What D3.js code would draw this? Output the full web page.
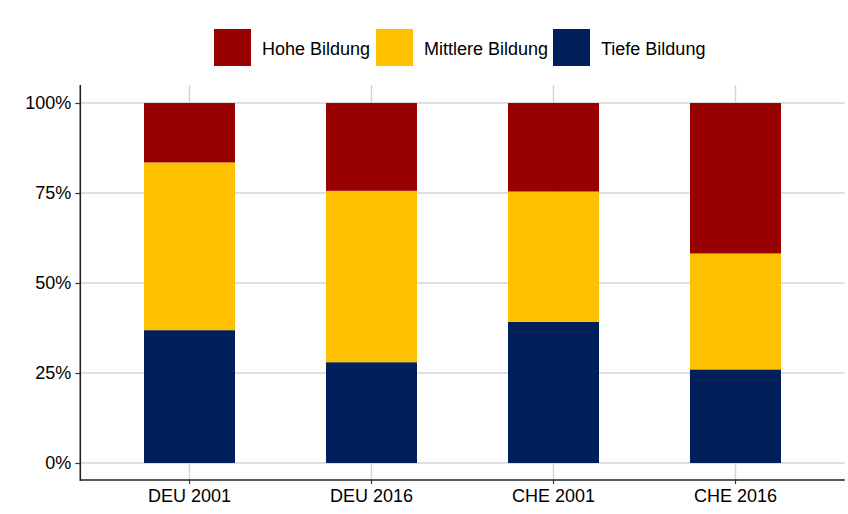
<!DOCTYPE html>
<html>
<head>
<meta charset="utf-8">
<script src="https://cdn.jsdelivr.net/npm/d3@7"></script>
<style>
  body { margin: 0; background: #fff; }
  text { font-family: "Liberation Sans", Arial, sans-serif; }
</style>
</head>
<body>
<svg id="chart" width="848" height="514"></svg>
<script>
const categories = ["DEU 2001", "DEU 2016", "CHE 2001", "CHE 2016"];
const seriesNames = ["Tiefe Bildung", "Mittlere Bildung", "Hohe Bildung"];
const tiefe = [0.369, 0.280, 0.392, 0.260];
const mittlere = [0.466, 0.476, 0.362, 0.322];
const hohe = [0.165, 0.244, 0.246, 0.418];
const yTicks = [0, 0.25, 0.5, 0.75, 1];
const yTickLabels = ["0%", "25%", "50%", "75%", "100%"];
const legendOrder = ["Hohe Bildung", "Mittlere Bildung", "Tiefe Bildung"];
const colors = {"Hohe Bildung": "#990000", "Mittlere Bildung": "#FFC000", "Tiefe Bildung": "#00205B"};

(function () {
const svg = d3.select("#chart");
const pLeft = 80.3, pRight = 844.7, pTop = 85, pBottom = 481;
const fs = 18;

const data = categories.map((c, i) => ({
  cat: c,
  "Tiefe Bildung": tiefe[i],
  "Mittlere Bildung": mittlere[i],
  "Hohe Bildung": hohe[i]
}));
const stack = d3.stack().keys(seriesNames)(data);

const x = d3.scaleBand().domain(categories).range([pLeft, pRight]).paddingInner(0.5).paddingOuter(0.35);
const y = d3.scaleLinear().domain([-0.05, 1.05]).range([pBottom, pTop]);

const grid = svg.append("g");
grid.selectAll("line.h").data(yTicks).join("line")
  .attr("x1", pLeft).attr("x2", pRight)
  .attr("y1", d => y(d)).attr("y2", d => y(d))
  .attr("stroke", "#d4d4d4").attr("stroke-width", 1.4);
grid.selectAll("line.v").data(categories).join("line")
  .attr("x1", d => x(d) + x.bandwidth() / 2).attr("x2", d => x(d) + x.bandwidth() / 2)
  .attr("y1", pTop).attr("y2", pBottom)
  .attr("stroke", "#d4d4d4").attr("stroke-width", 1.4);

svg.append("g").selectAll("g").data(stack).join("g")
  .attr("fill", d => colors[d.key])
  .selectAll("rect").data(d => d).join("rect")
  .attr("x", d => x(d.data.cat))
  .attr("width", x.bandwidth())
  .attr("y", d => y(d[1]))
  .attr("height", d => y(d[0]) - y(d[1]));

const yAxis = d3.axisLeft(y).tickValues(yTicks).tickFormat((d, i) => yTickLabels[i]).tickSize(5).tickPadding(4);
const gy = svg.append("g").attr("transform", `translate(${pLeft},0)`).call(yAxis);
gy.select(".domain").attr("d", `M0,${pTop}V${pBottom}`).attr("stroke", "#222").attr("stroke-width", 1.6);
gy.selectAll(".tick line").attr("stroke", "#333").attr("stroke-width", 1.2);
gy.selectAll(".tick text").attr("font-size", fs).attr("fill", "#000").attr("font-family", "Liberation Sans, Arial, sans-serif");

const xAxis = d3.axisBottom(x).tickSize(4).tickPadding(5);
const gx = svg.append("g").attr("transform", `translate(0,${pBottom - 1})`).call(xAxis);
gx.select(".domain").attr("d", `M${pLeft},0H${pRight}`).attr("stroke", "#222").attr("stroke-width", 1.6);
gx.selectAll(".tick line").attr("stroke", "#333").attr("stroke-width", 1.2);
gx.selectAll(".tick text").attr("font-size", fs).attr("fill", "#000").attr("font-family", "Liberation Sans, Arial, sans-serif");

const legendX = [214, 376, 553];
const lg = svg.append("g").selectAll("g").data(legendOrder).join("g")
  .attr("transform", (d, i) => `translate(${legendX[i]},29)`);
lg.append("rect").attr("width", 37).attr("height", 37).attr("fill", d => colors[d]);
lg.append("text").attr("x", 48).attr("y", 26).attr("font-size", fs).attr("fill", "#000").text(d => d);
})();
</script>
</body>
</html>
